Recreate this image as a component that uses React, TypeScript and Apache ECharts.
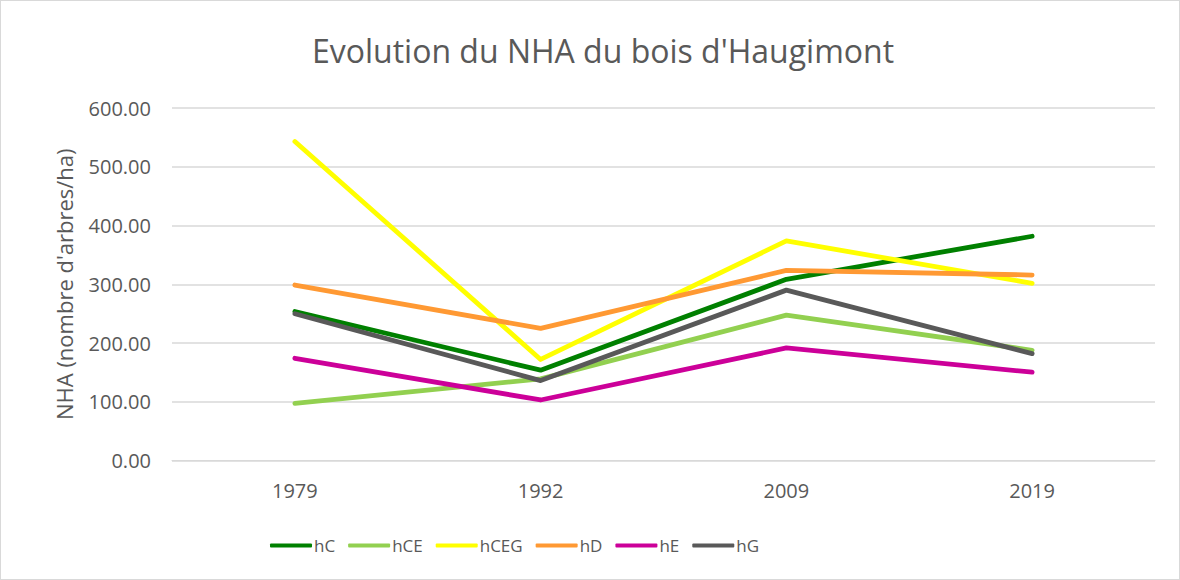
import React, { useEffect, useRef } from "react";
import * as echarts from "echarts";

const years = ["1979", "1992", "2009", "2019"];
const hC = [253.6, 153.7, 308.4, 381.7];
const hCE = [97.3, 139.0, 247.4, 187.6];
const hCEG = [543.0, 172.0, 373.7, 301.6];
const hD = [298.7, 224.8, 323.6, 315.7];
const hE = [174.0, 103.0, 191.6, 150.3];
const hG = [249.7, 136.0, 290.0, 182.0];

const seriesNames = ["hC", "hCE", "hCEG", "hD", "hE", "hG"];
const seriesData = [hC, hCE, hCEG, hD, hE, hG];
const colors = ["#008000", "#92D050", "#FFFF00", "#FF9933", "#CC0099", "#595959"];

const FONT = "'Open Sans', 'Liberation Sans', sans-serif";

export default function App() {
  const ref = useRef<HTMLDivElement>(null);
  useEffect(() => {
    document.body.style.margin = "0";
    const chart = echarts.init(ref.current!, null, { renderer: "svg" });
    chart.setOption({
      animation: false,
      backgroundColor: "#ffffff",
      title: {
        text: "Evolution du NHA du bois d'Haugimont",
        left: 597,
        textAlign: "center",
        top: 28,
        textStyle: { fontFamily: FONT, fontSize: 32, fontWeight: "normal", color: "#595959" },
      },
      grid: { left: 171, right: 24, top: 107, bottom: 118.5 },
      legend: {
        bottom: 20,
        left: 264,
        itemWidth: 42,
        itemHeight: 4,
        itemGap: 13,
        icon: "roundRect",
        textStyle: { fontFamily: FONT, fontSize: 17, color: "#595959", padding: [0, 0, 0, -3] },
        data: seriesNames,
      },
      xAxis: {
        type: "category",
        data: years,
        boundaryGap: true,
        axisLine: { show: true, lineStyle: { color: "#d9d9d9", width: 1 } },
        axisTick: { show: false },
        axisLabel: { fontFamily: FONT, fontSize: 20, color: "#595959", margin: 20 },
      },
      yAxis: {
        type: "value",
        min: 0,
        max: 600,
        interval: 100,
        name: "NHA (nombre d'arbres/ha)",
        nameLocation: "middle",
        nameGap: 97,
        nameTextStyle: { fontFamily: FONT, fontSize: 22, color: "#595959" },
        axisLine: { show: false },
        axisTick: { show: false },
        splitLine: { lineStyle: { color: "#d9d9d9", width: 1.5 } },
        axisLabel: {
          fontFamily: FONT,
          fontSize: 20,
          color: "#595959",
          margin: 21,
          formatter: (v: number) => v.toFixed(2),
        },
      },
      series: seriesNames.map((name, i) => ({
        name,
        type: "line",
        data: seriesData[i],
        color: colors[i],
        symbol: "none",
        lineStyle: { width: 4.8, color: colors[i], cap: "round", join: "round" },
      })),
    });
    return () => chart.dispose();
  }, []);
  return (
    <div
      ref={ref}
      style={{ width: 1180, height: 580, boxSizing: "border-box", border: "1px solid #d9d9d9" }}
    />
  );
}
